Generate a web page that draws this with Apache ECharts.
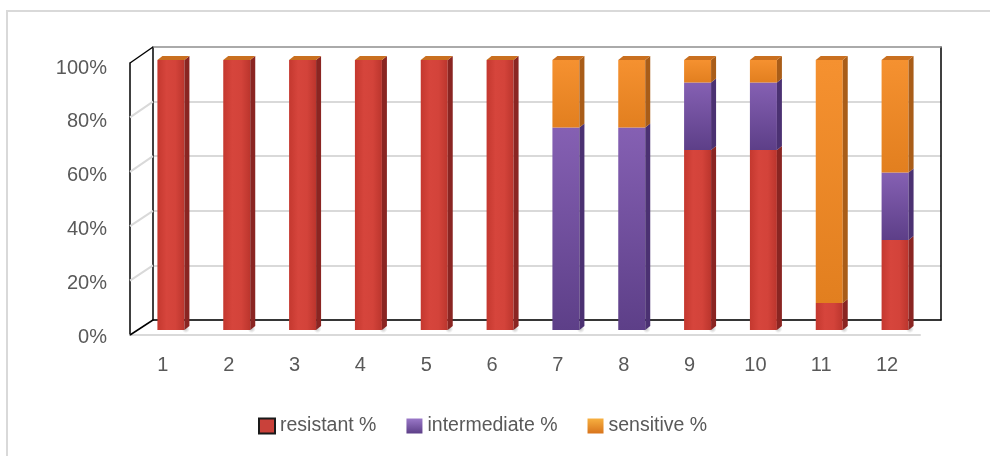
<!DOCTYPE html>
<html>
<head>
<meta charset="utf-8">
<script src="https://cdn.jsdelivr.net/npm/echarts@6/dist/echarts.min.js"></script>
<style>
  html, body { margin: 0; padding: 0; background: #ffffff; }
  #chart { width: 990px; height: 456px; }
</style>
</head>
<body>
<div id="chart"></div>
<script>
// ---- data ----
const categories = ['1', '2', '3', '4', '5', '6', '7', '8', '9', '10', '11', '12'];
const resistant = [100, 100, 100, 100, 100, 100, 0, 0, 66.7, 66.7, 10, 33.3];
const intermediate = [0, 0, 0, 0, 0, 0, 75, 75, 25, 25, 0, 25];
const sensitive = [0, 0, 0, 0, 0, 0, 25, 25, 8.3, 8.3, 90, 41.7];
const seriesNames = ['resistant %', 'intermediate %', 'sensitive %'];
const yTicks = [0, 20, 40, 60, 80, 100];

// ---- layout of the pseudo-3D box ----
const BACK = { left: 153, top: 47, width: 788, height: 273 };   // back wall
const BARS = { left: 138, top: 60, width: 790, height: 270 };   // plane of bar fronts
const FRONT = { left: 130, top: 63, width: 790, height: 272 };  // front edge of the box
const LABELS = { left: 130, top: 68, width: 790, height: 269 }; // value labels
const DEPTH_X = 5, DEPTH_Y = -4;                                // bar depth offset
const TEXT = '#595959';
const FONT = 'Liberation Sans';

const G = echarts.graphic;
const vGrad = (a, b) => new G.LinearGradient(0, 0, 0, 1, [{ offset: 0, color: a }, { offset: 1, color: b }]);
const hGrad = (stops) => new G.LinearGradient(0, 0, 1, 0, stops.map((c, i) => ({ offset: i / (stops.length - 1), color: c })));

const faces = [
  { // resistant
    front: () => hGrad(['#c4382f', '#d6453c', '#d3433a', '#bb352d']),
    side: '#8a2522',
    legend: '#c9413a'
  },
  { // intermediate
    front: () => vGrad('#8560b3', '#5d3f88'),
    side: '#4b3172',
    legend: vGrad('#9a78c8', '#5d3f88')
  },
  { // sensitive
    front: () => vGrad('#f59130', '#e27f1f'),
    side: '#a95d18',
    legend: vGrad('#f7b040', '#d8741c')
  }
];
const TOP_FACE = '#c96f1f';

// stacked extents [category, low, high] for each series
const layers = [resistant, intermediate, sensitive];
const stacked = layers.map((vals, s) => vals.map((v, i) => {
  let base = 0;
  for (let k = 0; k < s; k++) base += layers[k][i];
  return [i, base, base + v];
}));

function segmentRenderer(s) {
  const isTop = s === layers.length - 1;
  return function (params, api) {
    const idx = api.value(0), lo = api.value(1), hi = api.value(2);
    const pLo = api.coord([idx, lo]);
    const pHi = api.coord([idx, hi]);
    const w = api.size([1, 0])[0] * 0.41;
    const x = pLo[0] - w / 2;
    const children = [];
    if (hi > lo) {
      children.push({
        type: 'rect',
        shape: { x: x, y: pHi[1], width: w, height: pLo[1] - pHi[1] },
        style: { fill: faces[s].front() }
      });
      children.push({
        type: 'polygon',
        shape: { points: [[x + w, pHi[1]], [x + w + DEPTH_X, pHi[1] + DEPTH_Y], [x + w + DEPTH_X, pLo[1] + DEPTH_Y], [x + w, pLo[1]]] },
        style: { fill: faces[s].side }
      });
    }
    if (isTop) {
      children.push({
        type: 'polygon',
        shape: { points: [[x, pHi[1]], [x + DEPTH_X, pHi[1] + DEPTH_Y], [x + w + DEPTH_X, pHi[1] + DEPTH_Y], [x + w, pHi[1]]] },
        style: { fill: TOP_FACE }
      });
    }
    return { type: 'group', children: children };
  };
}

// soft floor shadow under each column
function shadowRenderer(params, api) {
  const idx = api.value(0);
  const p = api.coord([idx, 0]);
  const w = api.size([1, 0])[0] * 0.41;
  return {
    type: 'ellipse',
    shape: { cx: p[0] + w * 0.55, cy: p[1] - 1, rx: w * 1.05, ry: 4 },
    style: {
      fill: new G.RadialGradient(0.5, 0.5, 0.5, [
        { offset: 0, color: 'rgba(90,90,90,0.35)' },
        { offset: 1, color: 'rgba(90,90,90,0)' }
      ])
    },
    z2: -1
  };
}

const hiddenCat = (gridIndex) => ({
  type: 'category', gridIndex: gridIndex, data: categories, show: false
});
const hiddenVal = (gridIndex) => ({
  type: 'value', gridIndex: gridIndex, min: 0, max: 100, interval: 20, show: false
});

const chart = echarts.init(document.getElementById('chart'), null, { renderer: 'canvas' });

const option = {
  animation: false,
  backgroundColor: '#ffffff',
  textStyle: { fontFamily: FONT },
  grid: [BACK, BARS, FRONT, LABELS].map(g => Object.assign({ containLabel: false }, g)),
  xAxis: [
    { // back wall floor edge
      type: 'category', gridIndex: 0, data: categories, position: 'bottom',
      axisLine: { show: true, lineStyle: { color: '#000000', width: 1.5 } },
      axisTick: { show: false }, axisLabel: { show: false }, splitLine: { show: false }
    },
    hiddenCat(1),
    { // front edge with category labels
      type: 'category', gridIndex: 2, data: categories, position: 'bottom',
      axisLine: { show: true, lineStyle: { color: '#d9d9d9', width: 2 } },
      axisTick: { show: false },
      axisLabel: { show: true, color: TEXT, fontSize: 20, fontFamily: FONT, margin: 20 },
      splitLine: { show: false }
    },
    hiddenCat(3),
    { // back wall top edge
      type: 'category', gridIndex: 0, data: categories, position: 'top',
      axisLine: { show: true, onZero: false, lineStyle: { color: '#9a9a9a', width: 1.5 } },
      axisTick: { show: false }, axisLabel: { show: false }, splitLine: { show: false }
    }
  ],
  yAxis: [
    { // back wall: gridlines and left edge
      type: 'value', gridIndex: 0, min: 0, max: 100, interval: 20, position: 'left',
      axisLine: { show: true, lineStyle: { color: '#000000', width: 1.5 } },
      axisTick: { show: false }, axisLabel: { show: false },
      splitLine: { show: true, lineStyle: { color: '#d9d9d9', width: 2 } }
    },
    hiddenVal(1),
    { // front vertical edge
      type: 'value', gridIndex: 2, min: 0, max: 100, interval: 20, position: 'left',
      axisLine: { show: true, lineStyle: { color: '#000000', width: 1.5 } },
      axisTick: { show: false }, axisLabel: { show: false }, splitLine: { show: false }
    },
    { // value labels
      type: 'value', gridIndex: 3, min: 0, max: 100, interval: 20, position: 'left',
      axisLine: { show: false }, axisTick: { show: false }, splitLine: { show: false },
      axisLabel: { show: true, color: TEXT, fontSize: 20, fontFamily: FONT, margin: 23, formatter: '{value}%' }
    },
    { // back wall right edge
      type: 'value', gridIndex: 0, min: 0, max: 100, interval: 20, position: 'right',
      axisLine: { show: true, lineStyle: { color: '#000000', width: 1.5 } },
      axisTick: { show: false }, axisLabel: { show: false }, splitLine: { show: false }
    }
  ],
  legend: {
    left: 258, top: 416, padding: 0,
    itemWidth: 16, itemHeight: 15, itemGap: 30, itemTextGap: 0,
    icon: 'rect',
    textStyle: { color: TEXT, fontSize: 19.5, fontFamily: FONT },
    data: [
      { name: seriesNames[0], itemStyle: { color: faces[0].legend, borderColor: '#1a1a1a', borderWidth: 2 } },
      { name: seriesNames[1], itemStyle: { color: faces[1].legend } },
      { name: seriesNames[2], itemStyle: { color: faces[2].legend } }
    ]
  },
  series: [
    {
      type: 'custom', name: 'floor shadow', xAxisIndex: 1, yAxisIndex: 1,
      renderItem: shadowRenderer, data: categories.map((c, i) => [i]), silent: true, z: 1
    }
  ].concat(stacked.map((data, s) => ({
    type: 'custom',
    name: seriesNames[s],
    xAxisIndex: 1, yAxisIndex: 1,
    itemStyle: { color: s === 0 ? '#c9413a' : (s === 1 ? '#7a57a8' : '#f08a24') },
    encode: { x: 0, y: [1, 2] },
    renderItem: segmentRenderer(s),
    data: data,
    z: 3
  })))
};

chart.setOption(option);

// side wall: connect each value level on the front edge to the back wall
const sideLines = yTicks.map(v => {
  const yFront = chart.convertToPixel({ yAxisIndex: 2 }, v);
  const yBack = chart.convertToPixel({ yAxisIndex: 0 }, v);
  const edge = v === yTicks[0] || v === yTicks[yTicks.length - 1];
  return {
    type: 'line',
    shape: { x1: FRONT.left, y1: yFront, x2: BACK.left, y2: yBack },
    style: { stroke: edge ? '#000000' : '#d9d9d9', lineWidth: edge ? 1.5 : 2 },
    z: edge ? 2 : 1
  };
});

chart.setOption({
  graphic: [
    { // outer chart frame
      type: 'rect', silent: true,
      shape: { x: 7, y: 11, width: 1200, height: 600 },
      style: { fill: 'none', stroke: '#d9d9d9', lineWidth: 2 },
      z: 0
    }
  ].concat(sideLines)
});
</script>
</body>
</html>
